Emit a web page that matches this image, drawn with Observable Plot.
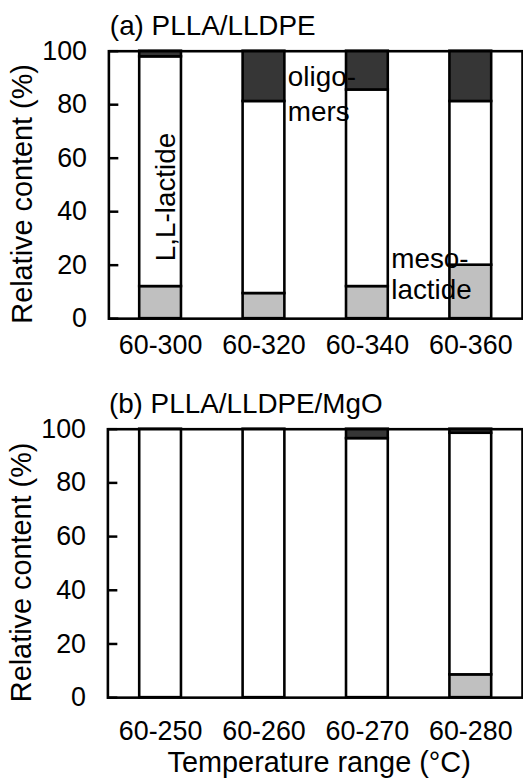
<!DOCTYPE html>
<html>
<head>
<meta charset="utf-8">
<script src="https://cdn.jsdelivr.net/npm/d3@7"></script>
<script src="https://cdn.jsdelivr.net/npm/@observablehq/plot@0.6"></script>
<style>
  html, body { margin: 0; padding: 0; background: #fff; overflow: hidden; width: 523px; }
  #chart svg { display: block; }
</style>
</head>
<body>
<div id="chart"></div>
<script>
const series = ["meso-lactide", "L,L-lactide", "oligomers"];
const seriesColors = ["#c0c0c0", "#ffffff", "#363636"];
const yTicks = [0, 20, 40, 60, 80, 100];

const catsA = ["60-300", "60-320", "60-340", "60-360"];
const mesoA = [12, 9.4, 12, 20];
const llA = [85.9, 71.8, 73.5, 61.2];
const oligA = [2.1, 18.8, 14.5, 18.8];

const catsB = ["60-250", "60-260", "60-270", "60-280"];
const mesoB = [0, 0, 0, 8.5];
const llB = [100, 100, 96.5, 90];
const oligB = [0, 0, 3.5, 1.5];

function rows(cats, meso, ll, olig) {
  const out = [];
  cats.forEach((c, i) => {
    [meso[i], ll[i], olig[i]].forEach((v, j) => {
      if (v > 0) out.push({cat: c, series: series[j], value: v});
    });
  });
  return out;
}

const FONT = "Liberation Sans, Arial, Helvetica, sans-serif";
const FS = 27;
const FS_TITLE = 28;
const FS_AXIS = 29;
const FS_ANN = 28;

function panel({cats, data, title, height, marginTop, marginBottom, marginLeft, xPad, xLabel, extra = []}) {
  const width = 526, marginRight = 1;
  const frameW = width - marginLeft - marginRight;
  return Plot.plot({
    width, height, marginTop, marginBottom, marginLeft, marginRight,
    style: {fontFamily: FONT, fontSize: FS + "px", color: "black", background: "white", overflow: "visible"},
    x: {domain: cats, paddingInner: 0.6, paddingOuter: 0.3, label: null},
    y: {domain: [0, 100], label: null},
    color: {domain: series, range: seriesColors},
    marks: [
      Plot.barY(data, {x: "cat", y: "value", fill: "series", stroke: "black", strokeWidth: 2.6, order: series}),
      Plot.frame({stroke: "black", strokeWidth: 2.6}),
      Plot.tickY(yTicks, {y: d => d, stroke: "black", strokeWidth: 2.5, insetRight: frameW - 10}),
      Plot.axisY({ticks: yTicks, tickSize: 0, tickPadding: 22, fontSize: FS, label: null}),
      Plot.axisX({tickSize: 0, tickPadding: xPad, fontSize: FS, label: null}),
      Plot.text([title], {frameAnchor: "top-left", textAnchor: "start", lineAnchor: "bottom", dy: -16, dx: 1, fontSize: FS_TITLE}),
      Plot.text(["Relative content (%)"], {frameAnchor: "left", textAnchor: "middle", lineAnchor: "middle", rotate: -90, dx: -87, dy: 9, fontSize: FS_AXIS}),
      ...(xLabel ? [Plot.text([xLabel], {frameAnchor: "bottom", textAnchor: "middle", lineAnchor: "bottom", dy: 75, dx: 4, fontSize: FS_AXIS})] : []),
      ...extra
    ]
  });
}

const annA = [
  Plot.text(["L,L-lactide"], {x: () => "60-300", y: () => 45.5, rotate: -90, dx: 6, fontSize: FS_ANN}),
  Plot.text(["oligo-"], {x: () => "60-320", y: () => 87, dx: 24, textAnchor: "start", lineAnchor: "bottom", fontSize: FS_ANN}),
  Plot.text(["mers"], {x: () => "60-320", y: () => 74, dx: 24, textAnchor: "start", lineAnchor: "bottom", fontSize: FS_ANN}),
  Plot.text(["meso-"], {x: () => "60-340", y: () => 19, dx: 24, textAnchor: "start", lineAnchor: "bottom", fontSize: FS_ANN}),
  Plot.text(["lactide"], {x: () => "60-340", y: () => 7.4, dx: 24, textAnchor: "start", lineAnchor: "bottom", fontSize: FS_ANN})
];

const chartA = panel({
  cats: catsA, data: rows(catsA, mesoA, llA, oligA), title: "(a) PLLA/LLDPE",
  height: 380, marginTop: 51, marginBottom: 60, marginLeft: 109, xPad: 16, extra: annA
});
const chartB = panel({
  cats: catsB, data: rows(catsB, mesoB, llB, oligB), title: "(b) PLLA/LLDPE/MgO",
  height: 404, marginTop: 51, marginBottom: 83, marginLeft: 108, xPad: 23, xLabel: "Temperature range (°C)"
});

const el = document.getElementById("chart");
el.appendChild(chartA);
el.appendChild(chartB);
</script>
</body>
</html>
